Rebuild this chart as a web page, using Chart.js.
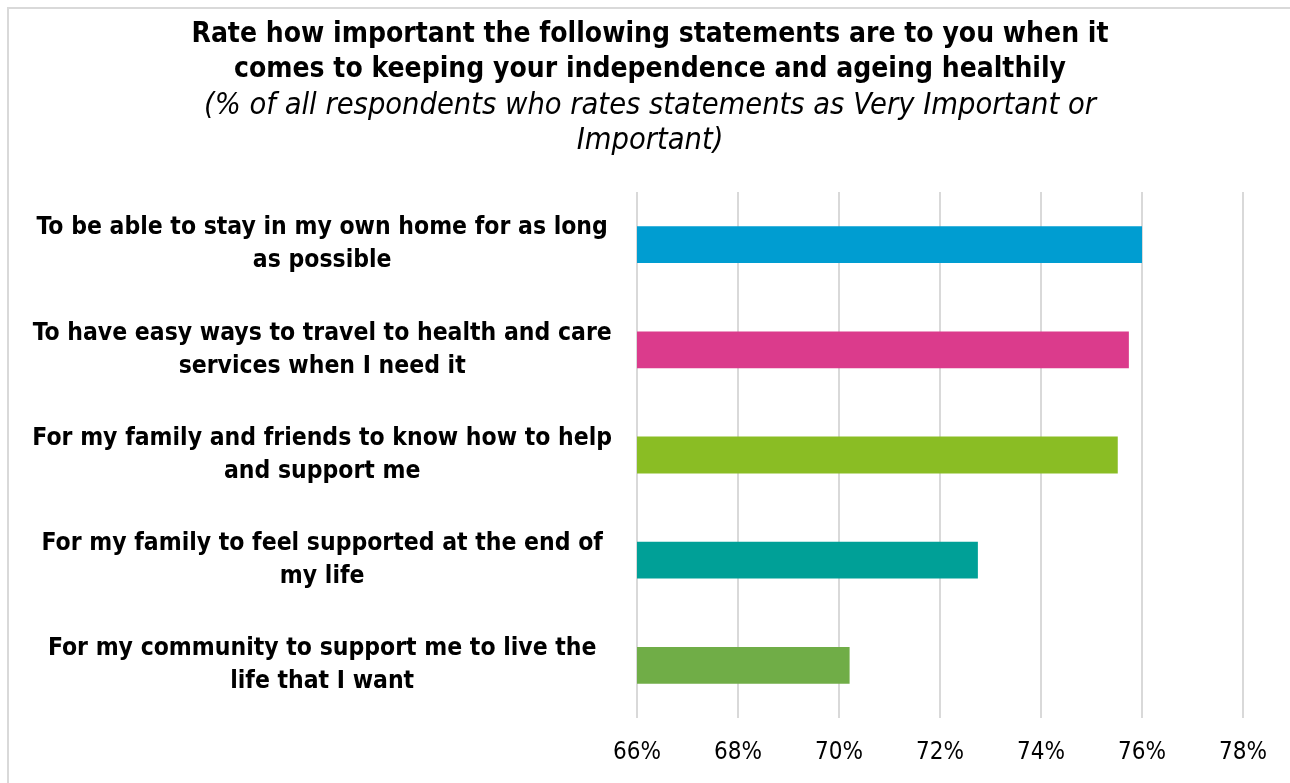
<!DOCTYPE html>
<html>
<head>
<meta charset="utf-8">
<script src="https://cdn.jsdelivr.net/npm/chart.js@4.4.1/dist/chart.umd.min.js"></script>
<style>
  html, body { margin: 0; padding: 0; background: #ffffff; }
  #wrap { position: relative; width: 1290px; height: 783px; overflow: hidden; }
  #frame { position: absolute; left: 7px; top: 7px; width: 1400px; height: 900px;
           border: 2px solid #d9d9d9; box-sizing: border-box; }
  canvas { position: absolute; left: 0; top: 0; }
</style>
</head>
<body>
<div id="wrap">
  <div id="frame"></div>
  <canvas id="chart" width="1290" height="783"></canvas>
</div>
<script>
// Statements, one array of wrapped lines per bar
const categories = [
  ["To be able to stay in my own home for as long", "as possible"],
  ["To have easy ways to travel to health and care", "services when I need it"],
  ["For my family and friends to know how to help", "and support me"],
  ["For my family to feel supported at the end of", "my life"],
  ["For my community to support me to live the", "life that I want"]
];

// % rating each statement Very Important or Important
const values = [76.0, 75.74, 75.52, 72.75, 70.21];

const barColors = ["#009dd1", "#db3b8c", "#8abd24", "#00a097", "#70ad47"];

const titleLines = [
  "Rate how important the following statements are to you when it",
  "comes to keeping your independence and ageing healthily"
];
const subtitleLines = [
  "(% of all respondents who rates statements as Very Important or",
  "Important)"
];

const axisMin = 66;
const axisMax = 78;
const axisStep = 2;

const fontFamily = "'DejaVu Sans Condensed', 'DejaVu Sans', sans-serif";

new Chart(document.getElementById("chart"), {
  type: "bar",
  data: {
    labels: categories,
    datasets: [{
      data: values,
      backgroundColor: barColors,
      borderWidth: 0,
      barPercentage: 0.35,
      categoryPercentage: 1.0
    }]
  },
  options: {
    indexAxis: "y",
    responsive: false,
    animation: false,
    devicePixelRatio: 1,
    layout: { padding: { left: 20, right: 10, top: 0, bottom: 0 } },
    plugins: {
      legend: { display: false },
      tooltip: { enabled: false },
      title: {
        display: true,
        text: titleLines,
        color: "#000000",
        font: { family: fontFamily, size: 28, weight: "bold", lineHeight: 35 / 28 },
        padding: { top: 17.5, bottom: 1 }
      },
      subtitle: {
        display: true,
        text: subtitleLines,
        color: "#000000",
        font: { family: fontFamily, size: 30.5, style: "italic", weight: "normal", lineHeight: 35 / 30.5 },
        padding: { top: 0, bottom: 33.5 }
      }
    },
    scales: {
      x: {
        min: axisMin,
        max: axisMax,
        border: { display: false },
        grid: { color: "#d9d9d9", lineWidth: 2, drawTicks: false },
        ticks: {
          stepSize: axisStep,
          color: "#000000",
          padding: 20,
          font: { family: fontFamily, size: 24 },
          callback: (v) => v + "%"
        },
        afterFit: (scale) => { scale.height = 65; }
      },
      y: {
        border: { display: false },
        grid: { display: false, drawTicks: false },
        ticks: {
          color: "#000000",
          padding: 25,
          crossAlign: "center",
          autoSkip: false,
          font: { family: fontFamily, size: 24.5, weight: "bold", lineHeight: 33 / 24.5 }
        },
        afterFit: (scale) => { scale.width = 617; }
      },
      // empty right-hand margin so the plot ends at the 78% line
      yRight: {
        axis: "y",
        type: "category",
        position: "right",
        border: { display: false },
        grid: { display: false, drawTicks: false },
        ticks: { display: false },
        afterFit: (scale) => { scale.width = 37; }
      }
    }
  }
});
</script>
</body>
</html>
